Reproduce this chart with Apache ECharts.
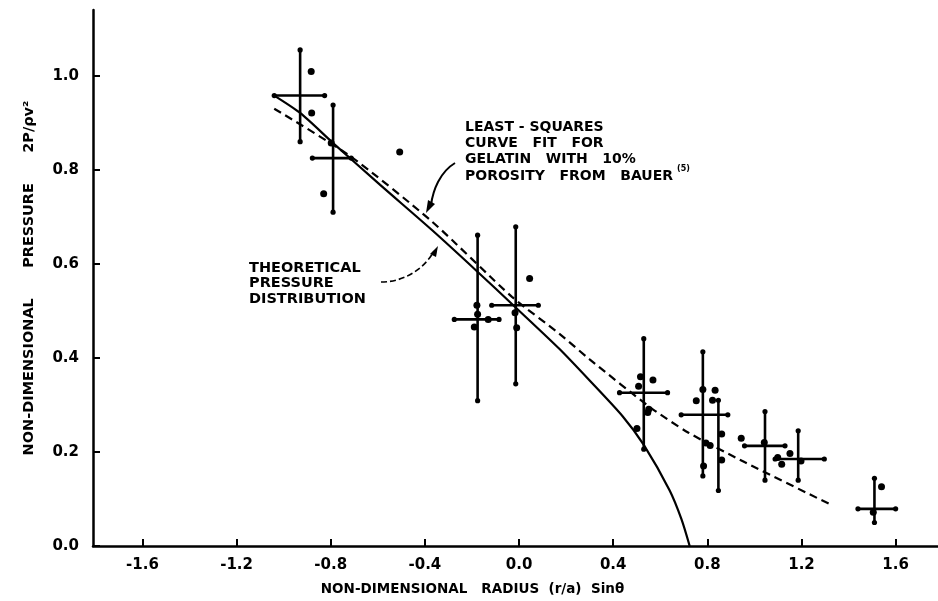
<!DOCTYPE html>
<html>
<head>
<meta charset="utf-8">
<title>Non-dimensional pressure distribution</title>
<script src="https://cdn.jsdelivr.net/npm/echarts@6/dist/echarts.min.js"></script>
<style>
  html, body { margin: 0; padding: 0; background: #fff; }
  #chart { width: 938px; height: 601px; }
</style>
</head>
<body>
<div id="chart"></div>
<script>
// axis ticks
const xTicks = [-1.6, -1.2, -0.8, -0.4, 0, 0.4, 0.8, 1.2, 1.6];
const yTicks = [0, 0.2, 0.4, 0.6, 0.8, 1.0];

// theoretical pressure distribution (solid curve)
const theoryX = [-1.04, -0.93, -0.79, -0.59, -0.37, -0.18, -0.02, 0.17, 0.30, 0.44, 0.53, 0.64, 0.69, 0.725];
const theoryY = [0.958, 0.921, 0.857, 0.768, 0.672, 0.585, 0.51, 0.42, 0.352, 0.276, 0.215, 0.118, 0.057, 0];

// least-squares fit, gelatin 10% porosity (dashed curve)
const fitX = [-1.04, -0.72, -0.37, -0.03, 0.17, 0.30, 0.56, 0.72, 0.96, 1.32];
const fitY = [0.93, 0.83, 0.69, 0.53, 0.452, 0.397, 0.294, 0.241, 0.178, 0.089];

// error bars: centre, vertical extent, horizontal extent
const barX   = [-0.93, -0.79, -0.176, -0.014, 0.53, 0.781, 0.847, 1.045, 1.186, 1.51];
const barY   = [0.958, 0.825, 0.482, 0.512, 0.326, 0.279, 0.22, 0.213, 0.185, 0.079];
const barYLo = [0.86, 0.71, 0.309, 0.345, 0.206, 0.149, 0.118, 0.14, 0.14, 0.05];
const barYHi = [1.055, 0.938, 0.661, 0.679, 0.441, 0.413, 0.31, 0.286, 0.245, 0.144];
const barXLo = [-1.04, -0.878, -0.275, -0.116, 0.427, 0.689, 0.847, 0.958, 1.088, 1.44];
const barXHi = [-0.826, -0.713, -0.085, 0.082, 0.631, 0.887, 0.847, 1.13, 1.297, 1.60];

// individual measurements
const ptX = [-0.883, -0.881, -0.83, -0.798, -0.507,
  -0.179, -0.176, -0.19, -0.131, -0.017, -0.01, 0.045,
  0.516, 0.569, 0.508, 0.551, 0.547, 0.501,
  0.781, 0.833, 0.753, 0.822, 0.861, 0.794, 0.812, 0.784, 0.861, 0.944,
  1.042, 1.151, 1.099, 1.116, 1.198, 1.54, 1.505];
const ptY = [1.009, 0.921, 0.749, 0.857, 0.838,
  0.512, 0.493, 0.466, 0.482, 0.496, 0.464, 0.569,
  0.36, 0.353, 0.34, 0.291, 0.284, 0.25,
  0.333, 0.331, 0.309, 0.31, 0.238, 0.219, 0.214, 0.17, 0.183, 0.229,
  0.22, 0.197, 0.188, 0.174, 0.181, 0.126, 0.072];

const font = 'DejaVu Sans';
const zip = (a, b) => a.map((v, i) => [v, b[i]]);
const barData = barX.map((x, i) => [x, barY[i], barYLo[i], barYHi[i], barXLo[i], barXHi[i]]);

const chart = echarts.init(document.getElementById('chart'));

const option = {
  backgroundColor: '#fff',
  animation: false,
  grid: { left: 93, right: 0, top: 10, bottom: 54 },
  xAxis: {
    type: 'value',
    min: -1.81,
    max: 1.78,
    splitLine: { show: false },
    axisLine: { onZero: false, lineStyle: { color: '#000', width: 2.5 } },
    axisTick: { inside: true, length: 7, customValues: xTicks, lineStyle: { color: '#000', width: 2 } },
    axisLabel: {
      customValues: xTicks,
      margin: 12,
      color: '#000',
      fontFamily: font,
      fontWeight: 'bold',
      fontSize: 15,
      formatter: v => v.toFixed(1)
    },
    name: 'NON-DIMENSIONAL   RADIUS  (r/a)  Sinθ',
    nameLocation: 'middle',
    nameGap: 36,
    nameTextStyle: { color: '#000', fontFamily: font, fontWeight: 'bold', fontSize: 13.5, padding: [0, 86, 0, 0] }
  },
  yAxis: {
    type: 'value',
    min: 0,
    max: 1.14,
    splitLine: { show: false },
    axisLine: { onZero: false, lineStyle: { color: '#000', width: 2.5 } },
    axisTick: { inside: true, length: 7, customValues: yTicks, lineStyle: { color: '#000', width: 2 } },
    axisLabel: {
      customValues: yTicks,
      margin: 14,
      color: '#000',
      fontFamily: font,
      fontWeight: 'bold',
      fontSize: 15,
      formatter: v => v.toFixed(1)
    },
    name: 'NON-DIMENSIONAL      PRESSURE      2P/ρv²',
    nameLocation: 'middle',
    nameGap: 56,
    nameTextStyle: { color: '#000', fontFamily: font, fontWeight: 'bold', fontSize: 14.5 }
  },
  series: [
    {
      name: 'Theoretical pressure distribution',
      type: 'line',
      data: zip(theoryX, theoryY),
      smooth: 0.25,
      showSymbol: false,
      lineStyle: { color: '#000', width: 2.2 }
    },
    {
      name: 'Least-squares curve fit',
      type: 'line',
      data: zip(fitX, fitY),
      smooth: 0.25,
      showSymbol: false,
      lineStyle: { color: '#000', width: 2.2, type: [8, 5] }
    },
    {
      name: 'Error bars',
      type: 'custom',
      data: barData,
      encode: { x: [0, 4, 5], y: [1, 2, 3] },
      renderItem: function (params, api) {
        const top = api.coord([api.value(0), api.value(3)]);
        const bot = api.coord([api.value(0), api.value(2)]);
        const left = api.coord([api.value(4), api.value(1)]);
        const right = api.coord([api.value(5), api.value(1)]);
        const line = { stroke: '#000', lineWidth: 2.6 };
        const cap = { fill: '#000' };
        const children = [
          { type: 'line', shape: { x1: top[0], y1: top[1], x2: bot[0], y2: bot[1] }, style: line },
          { type: 'circle', shape: { cx: top[0], cy: top[1], r: 2.6 }, style: cap },
          { type: 'circle', shape: { cx: bot[0], cy: bot[1], r: 2.6 }, style: cap }
        ];
        if (api.value(5) > api.value(4)) {
          children.push(
            { type: 'line', shape: { x1: left[0], y1: left[1], x2: right[0], y2: right[1] }, style: line },
            { type: 'circle', shape: { cx: left[0], cy: left[1], r: 2.6 }, style: cap },
            { type: 'circle', shape: { cx: right[0], cy: right[1], r: 2.6 }, style: cap }
          );
        }
        return { type: 'group', children: children };
      }
    },
    {
      name: 'Measurements',
      type: 'scatter',
      data: zip(ptX, ptY),
      symbolSize: 7,
      itemStyle: { color: '#000', opacity: 1 }
    }
  ],
  graphic: [
    {
      type: 'text', left: 465, top: 119,
      style: {
        text: 'LEAST - SQUARES\nCURVE   FIT   FOR\nGELATIN   WITH   10%\nPOROSITY   FROM   BAUER',
        fill: '#000', font: 'bold 14px "DejaVu Sans"', lineHeight: 16.3
      }
    },
    {
      type: 'text', left: 677, top: 165,
      style: { text: '(5)', fill: '#000', font: 'bold 8px "DejaVu Sans"' }
    },
    {
      type: 'text', left: 249, top: 260,
      style: {
        text: 'THEORETICAL\nPRESSURE\nDISTRIBUTION',
        fill: '#000', font: 'bold 14.5px "DejaVu Sans"', lineHeight: 15.5
      }
    },
    {
      type: 'bezierCurve',
      shape: { x1: 455, y1: 163, x2: 431, y2: 205, cpx1: 440, cpy1: 172, cpx2: 433, cpy2: 190 },
      style: { stroke: '#000', lineWidth: 2, fill: null }
    },
    {
      type: 'polygon',
      shape: { points: [[426, 213], [428, 200], [435, 204]] },
      style: { fill: '#000' }
    },
    {
      type: 'bezierCurve',
      shape: { x1: 381, y1: 282, x2: 434, y2: 251, cpx1: 405, cpy1: 282, cpx2: 425, cpy2: 268 },
      style: { stroke: '#000', lineWidth: 1.6, fill: null, lineDash: [6, 3] }
    },
    {
      type: 'polygon',
      shape: { points: [[438, 246], [430, 254], [436, 257]] },
      style: { fill: '#000' }
    }
  ]
};

chart.setOption(option);
</script>
</body>
</html>
